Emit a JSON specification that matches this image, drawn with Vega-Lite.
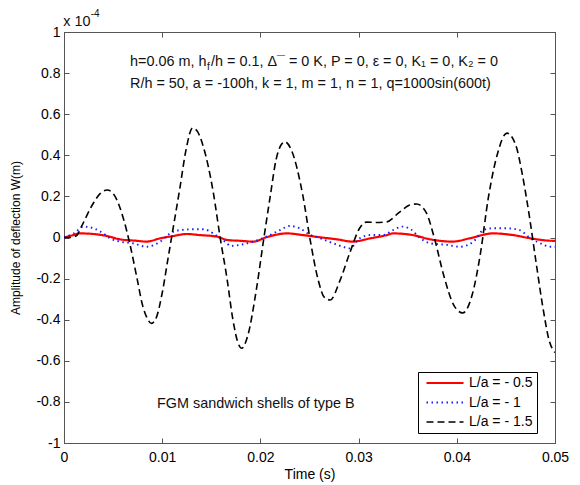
{
  "$schema": "https://vega.github.io/schema/vega-lite/v6.json",
  "width": 491,
  "height": 411,
  "autosize": {"type": "none"},
  "padding": {"left": 64, "top": 32, "right": 25, "bottom": 42},
  "background": "white",
  "config": {
    "font": "Liberation Sans",
    "view": {"stroke": "#555", "strokeWidth": 1},
    "axis": {"grid": false, "domainColor": "#555", "tickColor": "#555", "labelColor": "#000", "titleColor": "#000", "labelFont": "Liberation Sans", "titleFont": "Liberation Sans", "titleFontWeight": "normal", "labelFlush": false, "labelOverlap": false}
  },
  "datasets": {
    "curves": [
      {"t": 0.0, "w": 0.0, "s": "L/a = - 0.5"},
      {"t": 0.0008, "w": 0.01, "s": "L/a = - 0.5"},
      {"t": 0.0016, "w": 0.02, "s": "L/a = - 0.5"},
      {"t": 0.003, "w": 0.017, "s": "L/a = - 0.5"},
      {"t": 0.0044, "w": 0.007, "s": "L/a = - 0.5"},
      {"t": 0.0057, "w": -0.009, "s": "L/a = - 0.5"},
      {"t": 0.0074, "w": -0.016, "s": "L/a = - 0.5"},
      {"t": 0.0084, "w": -0.02, "s": "L/a = - 0.5"},
      {"t": 0.0098, "w": -0.004, "s": "L/a = - 0.5"},
      {"t": 0.0111, "w": 0.007, "s": "L/a = - 0.5"},
      {"t": 0.0125, "w": 0.017, "s": "L/a = - 0.5"},
      {"t": 0.0138, "w": 0.012, "s": "L/a = - 0.5"},
      {"t": 0.0156, "w": 0.004, "s": "L/a = - 0.5"},
      {"t": 0.0166, "w": -0.012, "s": "L/a = - 0.5"},
      {"t": 0.0179, "w": -0.016, "s": "L/a = - 0.5"},
      {"t": 0.0193, "w": -0.02, "s": "L/a = - 0.5"},
      {"t": 0.0206, "w": 0.001, "s": "L/a = - 0.5"},
      {"t": 0.0227, "w": 0.02, "s": "L/a = - 0.5"},
      {"t": 0.0243, "w": 0.012, "s": "L/a = - 0.5"},
      {"t": 0.0261, "w": 0.001, "s": "L/a = - 0.5"},
      {"t": 0.0278, "w": -0.009, "s": "L/a = - 0.5"},
      {"t": 0.0294, "w": -0.02, "s": "L/a = - 0.5"},
      {"t": 0.0312, "w": -0.004, "s": "L/a = - 0.5"},
      {"t": 0.0329, "w": 0.012, "s": "L/a = - 0.5"},
      {"t": 0.0335, "w": 0.02, "s": "L/a = - 0.5"},
      {"t": 0.0355, "w": 0.012, "s": "L/a = - 0.5"},
      {"t": 0.0373, "w": -0.009, "s": "L/a = - 0.5"},
      {"t": 0.0396, "w": -0.02, "s": "L/a = - 0.5"},
      {"t": 0.0413, "w": -0.004, "s": "L/a = - 0.5"},
      {"t": 0.0437, "w": 0.02, "s": "L/a = - 0.5"},
      {"t": 0.0457, "w": 0.012, "s": "L/a = - 0.5"},
      {"t": 0.0475, "w": -0.004, "s": "L/a = - 0.5"},
      {"t": 0.0498, "w": -0.016, "s": "L/a = - 0.5"},
      {"t": 0.05, "w": -0.016, "s": "L/a = - 0.5"},

      {"t": 0.0, "w": 0.0, "s": "L/a = - 1"},
      {"t": 0.001, "w": 0.02, "s": "L/a = - 1"},
      {"t": 0.002, "w": 0.053, "s": "L/a = - 1"},
      {"t": 0.003, "w": 0.045, "s": "L/a = - 1"},
      {"t": 0.004, "w": 0.02, "s": "L/a = - 1"},
      {"t": 0.0047, "w": -0.004, "s": "L/a = - 1"},
      {"t": 0.0057, "w": -0.02, "s": "L/a = - 1"},
      {"t": 0.007, "w": -0.028, "s": "L/a = - 1"},
      {"t": 0.0084, "w": -0.045, "s": "L/a = - 1"},
      {"t": 0.0098, "w": -0.02, "s": "L/a = - 1"},
      {"t": 0.0108, "w": 0.02, "s": "L/a = - 1"},
      {"t": 0.0118, "w": 0.036, "s": "L/a = - 1"},
      {"t": 0.0131, "w": 0.04, "s": "L/a = - 1"},
      {"t": 0.0142, "w": 0.04, "s": "L/a = - 1"},
      {"t": 0.0152, "w": 0.02, "s": "L/a = - 1"},
      {"t": 0.0159, "w": -0.004, "s": "L/a = - 1"},
      {"t": 0.0166, "w": -0.028, "s": "L/a = - 1"},
      {"t": 0.0169, "w": -0.041, "s": "L/a = - 1"},
      {"t": 0.0179, "w": -0.036, "s": "L/a = - 1"},
      {"t": 0.0193, "w": -0.02, "s": "L/a = - 1"},
      {"t": 0.0206, "w": 0.004, "s": "L/a = - 1"},
      {"t": 0.022, "w": 0.036, "s": "L/a = - 1"},
      {"t": 0.023, "w": 0.056, "s": "L/a = - 1"},
      {"t": 0.024, "w": 0.045, "s": "L/a = - 1"},
      {"t": 0.0251, "w": 0.012, "s": "L/a = - 1"},
      {"t": 0.0261, "w": -0.004, "s": "L/a = - 1"},
      {"t": 0.0274, "w": -0.028, "s": "L/a = - 1"},
      {"t": 0.0284, "w": -0.045, "s": "L/a = - 1"},
      {"t": 0.0291, "w": -0.053, "s": "L/a = - 1"},
      {"t": 0.0301, "w": -0.004, "s": "L/a = - 1"},
      {"t": 0.0312, "w": 0.012, "s": "L/a = - 1"},
      {"t": 0.0325, "w": 0.012, "s": "L/a = - 1"},
      {"t": 0.0335, "w": 0.036, "s": "L/a = - 1"},
      {"t": 0.0345, "w": 0.053, "s": "L/a = - 1"},
      {"t": 0.0353, "w": 0.04, "s": "L/a = - 1"},
      {"t": 0.0363, "w": -0.004, "s": "L/a = - 1"},
      {"t": 0.0373, "w": -0.028, "s": "L/a = - 1"},
      {"t": 0.039, "w": -0.036, "s": "L/a = - 1"},
      {"t": 0.0403, "w": -0.045, "s": "L/a = - 1"},
      {"t": 0.0417, "w": -0.02, "s": "L/a = - 1"},
      {"t": 0.0427, "w": 0.036, "s": "L/a = - 1"},
      {"t": 0.0437, "w": 0.045, "s": "L/a = - 1"},
      {"t": 0.0451, "w": 0.045, "s": "L/a = - 1"},
      {"t": 0.0464, "w": 0.036, "s": "L/a = - 1"},
      {"t": 0.0475, "w": -0.004, "s": "L/a = - 1"},
      {"t": 0.0485, "w": -0.028, "s": "L/a = - 1"},
      {"t": 0.0495, "w": -0.045, "s": "L/a = - 1"},
      {"t": 0.05, "w": -0.045, "s": "L/a = - 1"},

      {"t": 0.0, "w": 0.0, "s": "L/a = - 1.5"},
      {"t": 0.0006, "w": 0.0, "s": "L/a = - 1.5"},
      {"t": 0.0013, "w": 0.01, "s": "L/a = - 1.5"},
      {"t": 0.0017, "w": 0.046, "s": "L/a = - 1.5"},
      {"t": 0.003, "w": 0.168, "s": "L/a = - 1.5"},
      {"t": 0.0037, "w": 0.215, "s": "L/a = - 1.5"},
      {"t": 0.0044, "w": 0.231, "s": "L/a = - 1.5"},
      {"t": 0.0052, "w": 0.2, "s": "L/a = - 1.5"},
      {"t": 0.006, "w": 0.1, "s": "L/a = - 1.5"},
      {"t": 0.0067, "w": -0.03, "s": "L/a = - 1.5"},
      {"t": 0.0074, "w": -0.19, "s": "L/a = - 1.5"},
      {"t": 0.008, "w": -0.33, "s": "L/a = - 1.5"},
      {"t": 0.0085, "w": -0.395, "s": "L/a = - 1.5"},
      {"t": 0.0089, "w": -0.418, "s": "L/a = - 1.5"},
      {"t": 0.0094, "w": -0.39, "s": "L/a = - 1.5"},
      {"t": 0.01, "w": -0.27, "s": "L/a = - 1.5"},
      {"t": 0.0106, "w": -0.1, "s": "L/a = - 1.5"},
      {"t": 0.0112, "w": 0.07, "s": "L/a = - 1.5"},
      {"t": 0.0118, "w": 0.24, "s": "L/a = - 1.5"},
      {"t": 0.0124, "w": 0.42, "s": "L/a = - 1.5"},
      {"t": 0.0131, "w": 0.533, "s": "L/a = - 1.5"},
      {"t": 0.0136, "w": 0.515, "s": "L/a = - 1.5"},
      {"t": 0.0142, "w": 0.44, "s": "L/a = - 1.5"},
      {"t": 0.0152, "w": 0.22, "s": "L/a = - 1.5"},
      {"t": 0.0159, "w": 0.0, "s": "L/a = - 1.5"},
      {"t": 0.0166, "w": -0.2, "s": "L/a = - 1.5"},
      {"t": 0.0172, "w": -0.4, "s": "L/a = - 1.5"},
      {"t": 0.0177, "w": -0.51, "s": "L/a = - 1.5"},
      {"t": 0.0181, "w": -0.539, "s": "L/a = - 1.5"},
      {"t": 0.0187, "w": -0.48, "s": "L/a = - 1.5"},
      {"t": 0.0196, "w": -0.25, "s": "L/a = - 1.5"},
      {"t": 0.0203, "w": -0.02, "s": "L/a = - 1.5"},
      {"t": 0.021, "w": 0.2, "s": "L/a = - 1.5"},
      {"t": 0.0216, "w": 0.38, "s": "L/a = - 1.5"},
      {"t": 0.0221, "w": 0.45, "s": "L/a = - 1.5"},
      {"t": 0.0225, "w": 0.466, "s": "L/a = - 1.5"},
      {"t": 0.0232, "w": 0.42, "s": "L/a = - 1.5"},
      {"t": 0.0243, "w": 0.21, "s": "L/a = - 1.5"},
      {"t": 0.0251, "w": -0.02, "s": "L/a = - 1.5"},
      {"t": 0.0259, "w": -0.21, "s": "L/a = - 1.5"},
      {"t": 0.0265, "w": -0.29, "s": "L/a = - 1.5"},
      {"t": 0.0271, "w": -0.304, "s": "L/a = - 1.5"},
      {"t": 0.0281, "w": -0.21, "s": "L/a = - 1.5"},
      {"t": 0.0291, "w": -0.075, "s": "L/a = - 1.5"},
      {"t": 0.0301, "w": 0.045, "s": "L/a = - 1.5"},
      {"t": 0.0308, "w": 0.075, "s": "L/a = - 1.5"},
      {"t": 0.0318, "w": 0.073, "s": "L/a = - 1.5"},
      {"t": 0.0328, "w": 0.075, "s": "L/a = - 1.5"},
      {"t": 0.0342, "w": 0.125, "s": "L/a = - 1.5"},
      {"t": 0.0352, "w": 0.158, "s": "L/a = - 1.5"},
      {"t": 0.0359, "w": 0.163, "s": "L/a = - 1.5"},
      {"t": 0.0369, "w": 0.12, "s": "L/a = - 1.5"},
      {"t": 0.0377, "w": 0.0, "s": "L/a = - 1.5"},
      {"t": 0.0387, "w": -0.19, "s": "L/a = - 1.5"},
      {"t": 0.0397, "w": -0.33, "s": "L/a = - 1.5"},
      {"t": 0.0406, "w": -0.367, "s": "L/a = - 1.5"},
      {"t": 0.0415, "w": -0.29, "s": "L/a = - 1.5"},
      {"t": 0.0424, "w": -0.08, "s": "L/a = - 1.5"},
      {"t": 0.0432, "w": 0.19, "s": "L/a = - 1.5"},
      {"t": 0.0441, "w": 0.4, "s": "L/a = - 1.5"},
      {"t": 0.0451, "w": 0.508, "s": "L/a = - 1.5"},
      {"t": 0.046, "w": 0.45, "s": "L/a = - 1.5"},
      {"t": 0.0467, "w": 0.3, "s": "L/a = - 1.5"},
      {"t": 0.0474, "w": 0.1, "s": "L/a = - 1.5"},
      {"t": 0.0481, "w": -0.13, "s": "L/a = - 1.5"},
      {"t": 0.0488, "w": -0.35, "s": "L/a = - 1.5"},
      {"t": 0.0494, "w": -0.5, "s": "L/a = - 1.5"},
      {"t": 0.05, "w": -0.56, "s": "L/a = - 1.5"}
    ],
    "notes": [
      {"t": 0.00672, "w": 0.854, "label": "h=0.06 m, h"},
      {"t": 0.01497, "w": 0.854, "label": "/h = 0.1, Δ¯ = 0 K, P = 0, ε = 0, K₁ = 0, K₂ = 0"},
      {"t": 0.00672, "w": 0.747, "label": "R/h = 50, a = -100h, k = 1, m = 1, n = 1, q=1000sin(600t)"},
      {"t": 0.00947, "w": -0.808, "label": "FGM sandwich shells of type B"},
      {"t": -0.00007, "w": 1.0487, "label": "x 10"}
    ],
    "small": [
      {"t": 0.01456, "w": 0.83, "label": "f"},
      {"t": 0.00272, "w": 1.0876, "label": "-4"}
    ]
  },
  "resolve": {"axis": {"x": "independent", "y": "independent"}},
  "layer": [
    {
      "data": {"name": "curves"},
      "mark": {"type": "line", "clip": true, "interpolate": "monotone"},
      "encoding": {
        "x": {"field": "t", "type": "quantitative", "scale": {"domain": [0, 0.05], "nice": false, "zero": false},
          "axis": {"orient": "bottom", "values": [0, 0.01, 0.02, 0.03, 0.04, 0.05], "format": "~g", "tickSize": -5, "labelPadding": 12, "labelFontSize": 14, "title": "Time (s)", "titleFontSize": 14, "titlePadding": 3}},
        "y": {"field": "w", "type": "quantitative", "scale": {"domain": [-1, 1], "nice": false, "zero": false},
          "axis": {"orient": "left", "values": [-1, -0.8, -0.6, -0.4, -0.2, 0, 0.2, 0.4, 0.6, 0.8, 1], "labelExpr": "datum.value < 0 ? '-' + format(-datum.value, '~g') : format(datum.value, '~g')", "tickSize": -5, "labelPadding": 9, "labelFontSize": 14, "title": "Amplitude of deflection W(m)", "titleFontSize": 12, "titlePadding": 13}},
        "color": {"field": "s", "type": "nominal", "scale": {"domain": ["L/a = - 0.5", "L/a = - 1", "L/a = - 1.5"], "range": ["#ff0000", "#1a1aff", "#000000"]},
          "legend": {"orient": "none", "legendX": 354, "legendY": 340, "title": null, "padding": 4, "strokeColor": "#000", "fillColor": "#fff", "cornerRadius": 0, "labelFontSize": 14, "labelColor": "#000", "symbolType": "stroke", "symbolSize": 1369, "clipHeight": 14, "rowPadding": 5.5, "symbolOffset": 3, "labelOffset": 4}},
        "strokeDash": {"field": "s", "type": "nominal", "scale": {"domain": ["L/a = - 0.5", "L/a = - 1", "L/a = - 1.5"], "range": [[1, 0], [1.5, 3.5], [7, 4]]}},
        "strokeWidth": {"field": "s", "type": "nominal", "scale": {"domain": ["L/a = - 0.5", "L/a = - 1", "L/a = - 1.5"], "range": [2.2, 1.6, 2.2]}}
      }
    },
    {
      "data": {"name": "curves"},
      "mark": {"type": "line", "opacity": 0},
      "encoding": {
        "x": {"field": "t", "type": "quantitative", "axis": {"orient": "top", "values": [0, 0.01, 0.02, 0.03, 0.04, 0.05], "labels": false, "title": null, "tickSize": -5}},
        "y": {"field": "w", "type": "quantitative", "axis": {"orient": "right", "values": [-1, -0.8, -0.6, -0.4, -0.2, 0, 0.2, 0.4, 0.6, 0.8, 1], "labels": false, "title": null, "tickSize": -5}},
        "detail": {"field": "s"}
      }
    },
    {
      "data": {"name": "notes"},
      "mark": {"type": "text", "align": "left", "baseline": "middle", "fontSize": 14.4, "color": "#111"},
      "encoding": {
        "x": {"field": "t", "type": "quantitative", "axis": null},
        "y": {"field": "w", "type": "quantitative", "axis": null},
        "text": {"field": "label"}
      }
    },
    {
      "data": {"name": "small"},
      "mark": {"type": "text", "align": "left", "baseline": "middle", "fontSize": 10, "color": "#111"},
      "encoding": {
        "x": {"field": "t", "type": "quantitative", "axis": null},
        "y": {"field": "w", "type": "quantitative", "axis": null},
        "text": {"field": "label"}
      }
    }
  ]
}
